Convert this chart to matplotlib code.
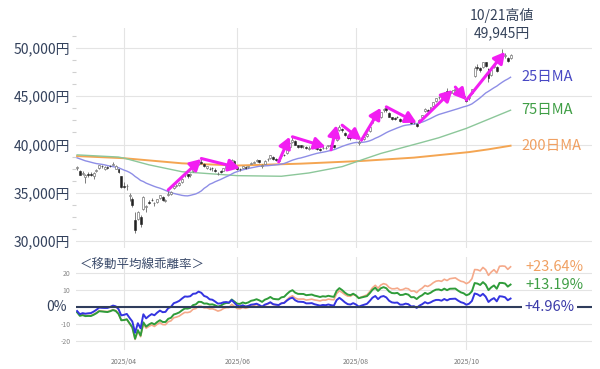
import numpy as np
import pandas as pd
import matplotlib
matplotlib.use("Agg")
import matplotlib.pyplot as plt
from matplotlib.ticker import FixedLocator

plt.rcParams['font.family'] = ['Noto Sans CJK JP', 'DejaVu Sans']

# ---------------- data ----------------
trading_days = {
    3: [6, 7, 10, 11, 12, 13, 14, 17, 18, 19, 21, 24, 25, 26, 27, 28, 31],
    4: [1, 2, 3, 4, 7, 8, 9, 10, 11, 14, 15, 16, 17, 18, 21, 22, 23, 24, 25, 28, 30],
    5: [1, 2, 7, 8, 9, 12, 13, 14, 15, 16, 19, 20, 21, 22, 23, 26, 27, 28, 29, 30],
    6: [2, 3, 4, 5, 6, 9, 10, 11, 12, 13, 16, 17, 18, 19, 20, 23, 24, 25, 26, 27, 30],
    7: [1, 2, 3, 4, 7, 8, 9, 10, 11, 14, 15, 16, 17, 18, 22, 23, 24, 25, 28, 29, 30, 31],
    8: [1, 4, 5, 6, 7, 8, 12, 13, 14, 15, 18, 19, 20, 21, 22, 25, 26, 27, 28, 29],
    9: [1, 2, 3, 4, 5, 8, 9, 10, 11, 12, 16, 17, 18, 19, 22, 24, 25, 26, 29, 30],
    10: [1, 2, 3, 6, 7, 8, 9, 10, 14, 15, 16, 17, 20, 21, 22, 23, 24],
}

closes = [
    37705, 36887, 37028, 36793, 36819, 36790, 37053, 37397, 37846, 37751, 37677, 37608, 37780, 38027, 37800, 37120, 35618,
    35625, 35725, 34736, 33781, 31137, 33013, 31714, 34609, 33586, 33983, 34268, 33921, 34378, 34730, 34280, 34221, 34869, 35040, 35706, 35840, 36045,
    36452, 36831, 36780, 36929, 37504, 37644, 38184, 38128, 37756, 37754, 37499, 37530, 37299, 36986, 37160, 37532, 37724, 37723, 38433, 37965,
    37471, 37447, 37747, 37554, 37742, 38089, 38212, 38421, 38174, 37834, 38311, 38537, 38885, 38489, 38403, 38355, 38791, 38942, 39585, 40151, 40487,
    39986, 39762, 39786, 39811, 39588, 39688, 39821, 39646, 39570, 39460, 39679, 39663, 39901, 39819, 39775, 41171, 41826, 41456, 40998, 40675, 40655, 41069,
    40800, 40290, 40550, 40795, 41059, 41820, 42718, 43275, 42650, 43378, 43714, 43546, 42889, 42610, 42633, 42808, 42394, 42520, 42829, 42718,
    42189, 42310, 41939, 42580, 43019, 43644, 43460, 43838, 44372, 44768, 44902, 44790, 45304, 45046, 45494, 45630, 45755, 45355, 45044, 44933,
    44551, 44937, 45770, 47945, 47951, 47735, 48580, 48089, 46848, 47673, 48278, 47582, 49186, 49316, 49308, 48642, 49300,
]
opens = [
    37600, 37300, 36900, 36600, 36900, 36900, 36700, 37300, 37600, 37800, 37500, 37700, 37800, 37900, 37500, 37500, 36700,
    35700, 35700, 34700, 34400, 32200, 32300, 32500, 33300, 33500, 34000, 34300, 33900, 34000, 34500, 34600, 34100, 34800, 34900, 35500, 35700, 35800,
    36100, 36800, 36900, 36800, 37300, 37600, 38000, 38200, 38000, 37600, 37500, 37600, 37400, 36900, 37300, 37300, 37600, 37900, 38000, 38300,
    37700, 37500, 37600, 37700, 37700, 38000, 38100, 38300, 38350, 37800, 38000, 38500, 38600, 38700, 38500, 38300, 38800, 38950, 39100, 39700, 40300,
    40400, 39900, 39900, 39800, 39700, 39500, 39800, 39700, 39600, 39500, 39600, 39600, 39800, 39900, 39900, 40500, 41500, 41600, 41200, 40900, 40800, 40900,
    40900, 40200, 40500, 40600, 40900, 41400, 42300, 42900, 43100, 42800, 43600, 43800, 43300, 42800, 42700, 42900, 42600, 42400, 42600, 42800,
    42400, 42300, 42100, 42300, 42900, 43500, 43600, 43600, 44000, 44500, 44900, 44800, 44900, 45500, 45300, 45300, 45600, 45500, 45100, 45000,
    44700, 44800, 45300, 47100, 48000, 47900, 48000, 48500, 47800, 47200, 48000, 48000, 48500, 49400, 49200, 49000, 49000,
]
highs = [
    37800, 37400, 37250, 36900, 37100, 37100, 37100, 37450, 37900, 37900, 37800, 37800, 37900, 38220, 37900, 37500, 36700,
    36150, 35900, 35000, 34600, 33000, 33100, 32700, 34700, 33700, 34200, 34450, 34000, 34400, 34800, 34650, 34400, 35200, 35150, 35750, 35900, 36100,
    36500, 37000, 36900, 37000, 37600, 37800, 38300, 38500, 38100, 37800, 37700, 37650, 37600, 37100, 37400, 37600, 37800, 38000, 38500, 38400,
    37800, 37600, 37800, 37800, 37800, 38200, 38300, 38500, 38400, 38000, 38350, 38600, 38900, 38800, 38600, 38500, 38900, 39000, 39600, 40200, 40850,
    40500, 40000, 39950, 39900, 39800, 39800, 39900, 39900, 39700, 39600, 39800, 39800, 39950, 40000, 40000, 41200, 42000, 41700, 41300, 41000, 40900, 41200,
    41000, 40500, 40700, 40850, 41200, 42000, 42800, 43300, 43200, 43400, 43800, 43900, 43400, 42900, 42800, 43000, 42700, 42600, 42900, 42900,
    42500, 42400, 42200, 42600, 43100, 43800, 43700, 43900, 44400, 44800, 45000, 45000, 45400, 45850, 45550, 45650, 45800, 45600, 45200, 45100,
    44800, 45000, 45800, 48150, 48300, 48000, 48600, 48600, 47900, 47700, 48300, 48100, 49200, 49945, 49500, 49100, 49400,
]
lows = [
    37400, 36800, 36850, 35990, 36650, 36700, 36400, 37150, 37500, 37600, 37400, 37500, 37700, 37850, 37500, 37000, 35500,
    35450, 35300, 34100, 33500, 30792, 32200, 31500, 33250, 33000, 33800, 34100, 33600, 33900, 34400, 34150, 34000, 34700, 34800, 35400, 35600, 35750,
    36000, 36600, 36500, 36600, 37200, 37400, 37900, 38000, 37700, 37500, 37400, 37300, 37200, 36800, 37000, 37250, 37500, 37650, 37950, 37900,
    37400, 37300, 37550, 37500, 37600, 37950, 38050, 38200, 38050, 37600, 37950, 38300, 38500, 38400, 38300, 38150, 38600, 38800, 39000, 39650, 40200,
    39900, 39600, 39650, 39600, 39500, 39400, 39700, 39500, 39400, 39300, 39500, 39500, 39700, 39700, 39600, 40400, 41400, 41300, 40900, 40600, 40500, 40800,
    40600, 39900, 40400, 40500, 40800, 41300, 42200, 42800, 42500, 42700, 43400, 43400, 42800, 42500, 42500, 42700, 42300, 42300, 42500, 42600,
    42100, 42100, 41800, 42200, 42800, 43400, 43300, 43500, 43900, 44400, 44700, 44600, 44800, 44900, 45200, 45200, 45500, 45200, 44900, 44700,
    44400, 44600, 45200, 47000, 47700, 47500, 47900, 48000, 46500, 47100, 47900, 47500, 48400, 49200, 49000, 48500, 48900,
]
# closes of the 24 sessions before the first candle (for the 25-day MA)
pre_closes = [39415, 39513, 39572, 38520, 38798, 38831, 39067, 38787, 38801, 38963, 39462, 39149,
              39174, 39270, 38678, 38679, 38777, 38238, 38142, 38256, 37155, 37785, 37331, 37418]

ma75_dates = ['03-06', '03-28', '04-01', '04-14', '05-01', '05-16', '06-02', '06-24', '07-08',
              '07-25', '08-01', '08-15', '09-01', '09-16', '10-01', '10-10', '10-24']
ma75_vals = [38925, 38700, 38587, 37895, 37178, 36993, 36772, 36709, 37052,
             37707, 38204, 39073, 39910, 40699, 41673, 42502, 43554]
ma200_dates = ['03-06', '04-01', '05-01', '06-02', '07-01', '08-01', '09-01', '10-01', '10-10', '10-24']
ma200_vals = [38800, 38580, 38050, 37820, 37990, 38260, 38612, 39176, 39453, 39875]

arrow_start_dates = ['04-23', '05-14', '06-23', '06-30', '07-18', '07-25', '08-05', '08-19', '09-04', '09-25', '10-01']
arrow_start_prices = [35300, 38550, 38200, 40800, 39450, 42000, 40450, 43900, 42300, 45950, 44600]
arrow_end_dates = ['05-14', '06-03', '06-27', '07-16', '07-23', '08-05', '08-15', '09-03', '09-24', '10-01', '10-22']
arrow_end_prices = [38500, 37550, 40800, 39750, 42000, 40450, 43800, 42250, 45650, 44600, 49600]

high_date = '10-21'
high_value = 49945

# ---------------- derived ----------------
date_keys = [f"{m:02d}-{d:02d}" for m in sorted(trading_days) for d in trading_days[m]]
pos = {k: i for i, k in enumerate(date_keys)}
idx = np.arange(len(closes))
c = np.array(closes, float)
o = np.array(opens, float)
h = np.array(highs, float)
l = np.array(lows, float)

ma25 = pd.Series(pre_closes + closes, dtype=float).rolling(25).mean().to_numpy()[len(pre_closes):]
ma75 = np.interp(idx, [pos[d] for d in ma75_dates], ma75_vals)
ma200 = np.interp(idx, [pos[d] for d in ma200_dates], ma200_vals)
dev25 = (c / ma25 - 1) * 100
dev75 = (c / ma75 - 1) * 100
dev200 = (c / ma200 - 1) * 100

tick_pos = [pos[f"{m:02d}-{trading_days[m][0]:02d}"] for m in (4, 6, 8, 10)]
tick_lab = [f"2025/{m:02d}" for m in (4, 6, 8, 10)]

# ---------------- figure ----------------
W, H = 600, 369
fig = plt.figure(figsize=(6, 3.69), dpi=100)
ax = fig.add_axes([76 / W, 1 - 248 / H, (592 - 76) / W, (248 - 28) / H])
ax2 = fig.add_axes([76 / W, 1 - 350 / H, (592 - 76) / W, (350 - 257) / H])

xlim = (-0.4, 186.5)
grid_c = '#e4e4e4'
label_c = '#33415c'

c25_line, c75_line, c200_line = '#8e8ee6', '#8cc79a', '#f4a552'
c25_dev, c75_dev, c200_dev = '#3434e0', '#2f9c3a', '#f5a98a'
c25_txt, c75_txt, c200_txt = '#4848c4', '#3f9e45', '#f0a062'

# ---- main panel ----
ax.set_xlim(*xlim)
ax.set_ylim(29275, 52073)
for s in ax.spines.values():
    s.set_visible(False)
ax.set_xticks(tick_pos)
ax.tick_params(axis='x', length=0, labelbottom=False)
ax.set_yticks([30000, 35000, 40000, 45000, 50000])
ax.set_yticklabels([f"{v:,}円" for v in [30000, 35000, 40000, 45000, 50000]])
ax.yaxis.set_minor_locator(FixedLocator([v for v in np.arange(30000, 52001, 1250) if v % 5000 != 0]))
ax.tick_params(axis='y', which='major', length=0, pad=4, labelsize=10, labelcolor=label_c)
ax.tick_params(axis='y', which='minor', length=3, width=0.8, color='#d0d0d0')
ax.grid(True, color=grid_c, lw=0.8)
ax.set_axisbelow(True)

ax.plot(idx, ma200, color=c200_line, lw=1.4, zorder=2)
ax.plot(idx, ma75, color=c75_line, lw=1.0, zorder=2)
ax.plot(idx, ma25, color=c25_line, lw=1.0, zorder=2)

up = c >= o
ax.vlines(idx, l, h, color='#666666', lw=0.6, zorder=3)
ax.bar(idx[up], (c - o)[up], bottom=o[up], width=0.7, color='white',
       edgecolor='#777777', linewidth=0.5, zorder=4)
ax.bar(idx[~up], (c - o)[~up], bottom=o[~up], width=0.7, color='#222222',
       edgecolor='#222222', linewidth=0.4, zorder=4)

for sd, sp, ed, ep in zip(arrow_start_dates, arrow_start_prices, arrow_end_dates, arrow_end_prices):
    ax.annotate('', xy=(pos[ed], ep), xytext=(pos[sd], sp),
                arrowprops=dict(arrowstyle='-|>,head_length=0.55,head_width=0.3',
                                color='#f21ef2', lw=2.2, shrinkA=0, shrinkB=0,
                                mutation_scale=12), zorder=6)

for ma, txt, col in ((ma25, '25日MA', c25_txt), (ma75, '75日MA', c75_txt), (ma200, '200日MA', c200_txt)):
    ax.annotate(txt, xy=(idx[-1], ma[-1]), xytext=(8, 0), textcoords='offset points',
                va='center', ha='left', fontsize=10.5, color=col)

ax.annotate(f"{high_date.replace('-', '/').lstrip('0')}高値\n{high_value:,}円",
            xy=(pos[high_date], high_value), xytext=(0, 6), textcoords='offset points',
            ha='center', va='bottom', fontsize=10, color='#34425a', linespacing=1.25,
            annotation_clip=False)

# ---- deviation panel ----
ax2.set_xlim(*xlim)
ax2.set_ylim(-25.3, 29.4)
for s in ax2.spines.values():
    s.set_visible(False)
ax2.set_xticks(tick_pos)
ax2.set_xticklabels(tick_lab)
ax2.tick_params(axis='x', length=0, pad=6, labelsize=5, labelcolor='#777777')
ax2.set_yticks([-20, -10, 0, 10, 20])
ax2.set_yticklabels(['-20', '-10', '', '10', '20'])
ax2.tick_params(axis='y', length=0, pad=4, labelsize=5, labelcolor='#888888')
ax2.grid(True, color=grid_c, lw=0.8)
ax2.set_axisbelow(True)

ax2.plot(idx, dev200, color=c200_dev, lw=1.2, zorder=3)
ax2.plot(idx, dev75, color=c75_dev, lw=1.4, zorder=4)
ax2.plot(idx, dev25, color=c25_dev, lw=1.4, zorder=5)
ax2.axhline(0, color='#2f3d5c', lw=1.5, zorder=6)

ax2.text(-0.017, 0, '0%', transform=ax2.get_yaxis_transform(), ha='right', va='center',
         fontsize=10, color='#33415c')
ax2.text(0.008, 0.91, '＜移動平均線乖離率＞', transform=ax2.transAxes, ha='left', va='center',
         fontsize=9, color='#3a4a6a')

ax2.annotate(f"{dev200[-1]:+.2f}%", xy=(idx[-1], dev200[-1]), xytext=(11, 0),
             textcoords='offset points', va='center', ha='left', fontsize=10.5, color=c200_txt)
ax2.annotate(f"{dev75[-1]:+.2f}%", xy=(idx[-1], dev75[-1]), xytext=(11, 0),
             textcoords='offset points', va='center', ha='left', fontsize=10.5, color=c75_txt)
ax2.annotate(f"{dev25[-1]:+.2f}%", xy=(idx[-1], 0), xytext=(10, 0),
             textcoords='offset points', va='center', ha='left', fontsize=10.5, color='#3a3aa8',
             bbox=dict(boxstyle='square,pad=0.15', fc='white', ec='none'), zorder=7)

fig.savefig('out.png', dpi=100)
